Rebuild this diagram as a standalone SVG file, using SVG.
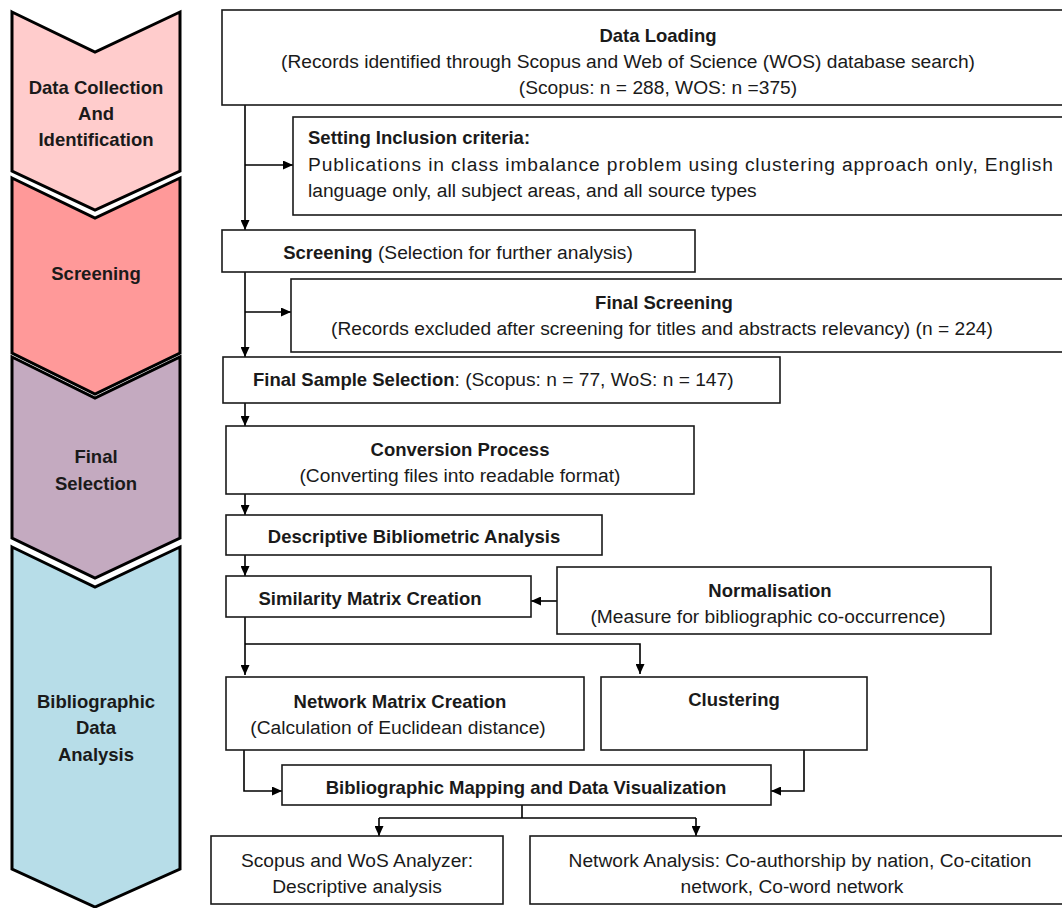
<svg xmlns="http://www.w3.org/2000/svg" width="1062" height="908" viewBox="0 0 1062 908">
<defs>
<style>
text{font-family:"Liberation Sans",Arial,sans-serif;fill:#1a1a1a;font-size:19.2px}
.b{font-weight:bold;font-size:18.5px}
.m{text-anchor:middle}
.box{fill:#fff;stroke:#1a1a1a;stroke-width:1.6}
.chev{stroke:#000;stroke-width:3;stroke-linejoin:miter}
.con{fill:none;stroke:#000;stroke-width:1.6}
</style>
<marker id="ah" markerUnits="userSpaceOnUse" markerWidth="10" markerHeight="9" refX="10" refY="4.5" orient="auto">
<path d="M0,0 L10,4.5 L0,9 z" fill="#000"/>
</marker>
</defs>
<rect width="1062" height="908" fill="#fff"/>

<g id="phase1">
<polygon class="chev" fill="#FFCCCC" points="12,12 95,52 180,12 180,171 95,210 12,171"/>
<text class="b m" x="96" y="94">Data Collection</text>
<text class="b m" x="96" y="120">And</text>
<text class="b m" x="96" y="146">Identification</text>
</g>
<g id="phase2">
<polygon class="chev" fill="#FF9999" points="12,178 95,218 180,178 180,353 95,394 12,353"/>
<text class="b m" x="96" y="280">Screening</text>
</g>
<g id="phase3">
<polygon class="chev" fill="#C4AAC0" points="12,357 95,398 180,357 180,538 95,578 12,538"/>
<text class="b m" x="96" y="463">Final</text>
<text class="b m" x="96" y="490">Selection</text>
</g>
<g id="phase4">
<polygon class="chev" fill="#B7DDE8" points="12,547 95,587 180,547 180,869 95,907 12,869"/>
<text class="b m" x="96" y="708">Bibliographic</text>
<text class="b m" x="96" y="734">Data</text>
<text class="b m" x="96" y="761">Analysis</text>
</g>

<g id="connectors">
<path class="con" d="M245,105 V230" marker-end="url(#ah)"/>
<path class="con" d="M245,165 H293" marker-end="url(#ah)"/>
<path class="con" d="M245,272 V357" marker-end="url(#ah)"/>
<path class="con" d="M245,312 H291" marker-end="url(#ah)"/>
<path class="con" d="M245,403 V426" marker-end="url(#ah)"/>
<path class="con" d="M245,494 V515" marker-end="url(#ah)"/>
<path class="con" d="M245,555 V576" marker-end="url(#ah)"/>
<path class="con" d="M557,601 H531" marker-end="url(#ah)"/>
<path class="con" d="M245,617 V675" marker-end="url(#ah)"/>
<path class="con" d="M245,644 H640 V674" marker-end="url(#ah)"/>
<path class="con" d="M244,750 V791 H282" marker-end="url(#ah)"/>
<path class="con" d="M804,750 V791 H771" marker-end="url(#ah)"/>
<path class="con" d="M522,805 V818"/>
<path class="con" d="M379,818 H696"/>
<path class="con" d="M379,818 V836" marker-end="url(#ah)"/>
<path class="con" d="M696,818 V836" marker-end="url(#ah)"/>
</g>

<g id="dataLoading">
<rect class="box" x="222" y="10" width="860" height="95"/>
<text class="b m" x="658" y="42">Data Loading</text>
<text class="m" x="628" y="68">(Records identified through Scopus and Web of Science (WOS) database search)</text>
<text class="m" x="658" y="94">(Scopus: n = 288, WOS: n =375)</text>
</g>
<g id="inclusion">
<rect class="box" x="293" y="117" width="790" height="98"/>
<text class="b" x="308" y="144">Setting Inclusion criteria:</text>
<text x="308" y="171" textLength="745" lengthAdjust="spacing">Publications in class imbalance problem using clustering approach only, English</text>
<text x="308" y="197">language only, all subject areas, and all source types</text>
</g>
<g id="screening">
<rect class="box" x="222" y="230" width="473" height="42"/>
<text class="m" x="458" y="259"><tspan class="b">Screening</tspan> (Selection for further analysis)</text>
</g>
<g id="finalScreening">
<rect class="box" x="291" y="279" width="790" height="73"/>
<text class="b m" x="664" y="309">Final Screening</text>
<text class="m" x="662" y="335">(Records excluded after screening for titles and abstracts relevancy) (n = 224)</text>
</g>
<g id="finalSample">
<rect class="box" x="223" y="357" width="557" height="46"/>
<text x="253" y="386"><tspan class="b">Final Sample Selection</tspan>: (Scopus: n = 77, WoS: n = 147)</text>
</g>
<g id="conversion">
<rect class="box" x="226" y="426" width="468" height="68"/>
<text class="b m" x="460" y="456">Conversion Process</text>
<text class="m" x="460" y="482">(Converting files into readable format)</text>
</g>
<g id="descriptive">
<rect class="box" x="226" y="515" width="376" height="40"/>
<text class="b m" x="414" y="543">Descriptive Bibliometric Analysis</text>
</g>
<g id="similarity">
<rect class="box" x="226" y="576" width="305" height="41"/>
<text class="b m" x="370" y="605">Similarity Matrix Creation</text>
</g>
<g id="normalisation">
<rect class="box" x="557" y="567" width="434" height="67"/>
<text class="b m" x="770" y="597">Normalisation</text>
<text class="m" x="768" y="623">(Measure for bibliographic co-occurrence)</text>
</g>
<g id="networkMatrix">
<rect class="box" x="226" y="677" width="358" height="73"/>
<text class="b m" x="400" y="708">Network Matrix Creation</text>
<text class="m" x="398" y="734">(Calculation of Euclidean distance)</text>
</g>
<g id="clustering">
<rect class="box" x="601" y="677" width="266" height="73"/>
<text class="b m" x="734" y="706">Clustering</text>
</g>
<g id="mapping">
<rect class="box" x="282" y="765" width="489" height="40"/>
<text class="b m" x="526" y="794">Bibliographic Mapping and Data Visualization</text>
</g>
<g id="scopusAnalyzer">
<rect class="box" x="211" y="836" width="292" height="68"/>
<text class="m" x="357" y="867">Scopus and WoS Analyzer:</text>
<text class="m" x="357" y="893">Descriptive analysis</text>
</g>
<g id="networkAnalysis">
<rect class="box" x="530" y="836" width="560" height="68"/>
<text class="m" x="800" y="867">Network Analysis: Co-authorship by nation, Co-citation</text>
<text class="m" x="792" y="893">network, Co-word network</text>
</g>
</svg>
